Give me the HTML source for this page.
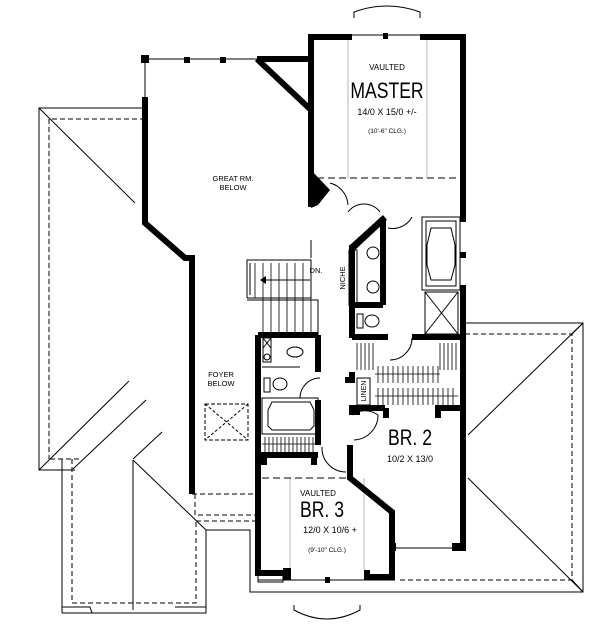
<!DOCTYPE html>
<html><head><meta charset="utf-8"><style>
html,body{margin:0;padding:0;background:#fff;width:600px;height:638px;overflow:hidden}
svg{display:block}
text{font-family:"Liberation Sans",sans-serif;fill:#000;text-anchor:middle}
</style></head><body>
<svg width="600" height="638" viewBox="0 0 600 638" xmlns="http://www.w3.org/2000/svg">
<g fill="none" stroke="#000" stroke-width="1">
<!-- left roof -->
<polyline points="145,108 39,108 39,470 75,470"/>
<polyline points="145,119 49,119 49,459" stroke-dasharray="5,3"/>
<line x1="39" y1="108" x2="135" y2="203"/>
<line x1="39" y1="470" x2="129" y2="381"/>
<line x1="73" y1="469" x2="146" y2="400"/>
<line x1="133" y1="459" x2="162" y2="432"/>
<line x1="50" y1="459" x2="82" y2="459" stroke-dasharray="5,3"/>
<line x1="62" y1="459" x2="62" y2="613"/>
<line x1="72" y1="459" x2="72" y2="603" stroke-dasharray="5,3"/>
<polyline points="72,603 196,603 196,522" stroke-dasharray="5,3"/>
<polyline points="62,613 92,613 90,607 62,607"/>
<polyline points="176,613 206,613 206,607 175,607"/>
<line x1="62" y1="613" x2="206" y2="613"/>
<line x1="133" y1="460" x2="133" y2="610"/>
<line x1="133" y1="460" x2="206" y2="530"/>
<polyline points="206,613 206,530 250,530 250,592 583,592 583,323 465,323"/>
<polyline points="192,494 258,494" stroke-dasharray="5,3"/>
<polyline points="195,494 195,515 258,515" stroke-dasharray="5,3"/>
<polyline points="196,521 258,521" stroke-dasharray="5,3"/>
<polyline points="465,334 572,334 572,580 398,580" stroke-dasharray="5,3"/>
<line x1="583" y1="323" x2="468" y2="435"/>
<line x1="583" y1="592" x2="468" y2="478"/>
<polyline points="572,334 583,323"/><polyline points="572,580 583,592"/>
<!-- skylight -->
<rect x="205" y="404" width="43" height="36" stroke-dasharray="4,2"/>
<line x1="205" y1="404" x2="248" y2="440" stroke-dasharray="3,2"/>
<line x1="248" y1="404" x2="205" y2="440" stroke-dasharray="3,2"/>
<!-- master dashed -->
<line x1="317" y1="178" x2="460" y2="178" stroke-dasharray="7,4"/>
<line x1="348" y1="40" x2="348" y2="178" stroke="#999" stroke-width=".7"/>
<line x1="427" y1="40" x2="427" y2="178" stroke="#999" stroke-width=".7"/>
<line x1="290" y1="478" x2="290" y2="570" stroke="#999" stroke-width=".7"/>
<line x1="364" y1="478" x2="364" y2="570" stroke="#999" stroke-width=".7"/>
<polyline points="262,478 354,478" stroke-dasharray="7,4"/>
<!-- bay arcs -->
<path d="M354,18 L354,12 Q387,0 420,12 L420,18"/>
<path d="M294,605 L294,610 Q327,628 360,610 L360,605"/>
<line x1="145" y1="59" x2="257" y2="59"/>
<line x1="145" y1="59" x2="145" y2="97"/>
<line x1="352" y1="35" x2="420" y2="35"/>
<line x1="258" y1="580" x2="395" y2="580"/>
<rect x="258" y="573" width="25" height="9"/>
<line x1="392" y1="548" x2="455" y2="548"/>
<line x1="311" y1="240" x2="311" y2="258"/>
<!-- stairs -->
<polyline points="247,298 247,260 311,260 311,298 247,298"/>
<polyline points="250,295 250,263"/>
<g stroke-width=".8">
<line x1="255" y1="263" x2="255" y2="298"/><line x1="263" y1="263" x2="263" y2="298"/><line x1="271" y1="263" x2="271" y2="298"/><line x1="279" y1="263" x2="279" y2="298"/><line x1="287" y1="263" x2="287" y2="298"/><line x1="295" y1="263" x2="295" y2="298"/><line x1="303" y1="263" x2="303" y2="298"/>
<line x1="263" y1="298" x2="263" y2="335"/><line x1="271" y1="298" x2="271" y2="335"/><line x1="279" y1="298" x2="279" y2="335"/><line x1="287" y1="298" x2="287" y2="335"/><line x1="295" y1="298" x2="295" y2="335"/><line x1="303" y1="298" x2="303" y2="335"/><line x1="311" y1="298" x2="311" y2="335"/>
</g>
<polyline points="247,300 318,300 318,335"/>
<line x1="262" y1="280" x2="310" y2="280"/>
<!-- doors -->
<path d="M330,183 A24,24 0 0 1 348,205"/>
<path d="M348,212 A20,20 0 0 1 380,212"/>
<path d="M388,228 A22,22 0 0 0 412,217"/>
<path d="M412,338 A22,22 0 0 1 390,360"/>
<path d="M352,415 A22,22 0 0 1 378,415 A25,25 0 0 1 354,440"/>
<path d="M320,378 A20,20 0 0 0 300,398"/>
<path d="M322,447 A24,24 0 0 0 346,472"/>
<!-- fixtures -->
<rect x="422" y="217" width="38" height="73"/>
<rect x="426" y="221" width="30" height="65"/>
<polygon points="431,228 451,228 455,245 455,265 451,280 431,280 427,265 427,245"/>
<rect x="425" y="292" width="33" height="42"/>
<line x1="425" y1="292" x2="458" y2="334"/><line x1="458" y1="292" x2="425" y2="334"/>
<rect x="349" y="250" width="8" height="55"/>
<circle cx="373" cy="253" r="6"/><circle cx="373" cy="287" r="6"/>
<ellipse cx="372" cy="321" rx="7" ry="6"/><rect x="357" y="314" width="6" height="14"/>
<ellipse cx="295" cy="352" rx="8" ry="5"/>
<rect x="263" y="338" width="8" height="24"/>
<line x1="263" y1="338" x2="271" y2="348"/><line x1="271" y1="338" x2="263" y2="348"/>
<circle cx="267" cy="357" r="3"/>
<line x1="262" y1="367" x2="300" y2="367"/>
<ellipse cx="280" cy="384" rx="7" ry="6"/><rect x="264" y="378" width="6" height="14"/>
<rect x="262" y="398" width="56" height="36"/>
<polygon points="272,402 310,402 314,410 314,426 310,430 272,430 268,426 268,410"/>
<rect x="357" y="378" width="13" height="27"/>
</g>
<!-- closet hatch -->
<g stroke="#000" stroke-width=".8">
<path d="M357,343 v27 M361,343 v27 M365,343 v27 M369,343 v27 M373,343 v27"/>
<path d="M440,343 v27 M444,343 v27 M448,343 v27 M452,343 v27 M456,343 v27"/>
<path d="M378,366 v17 M383,366 v17 M388,366 v17 M393,366 v17 M398,366 v17 M403,366 v17 M408,366 v17 M413,366 v17 M418,366 v17 M423,366 v17 M428,366 v17 M433,366 v17 M438,366 v17"/>
<line x1="375" y1="374" x2="440" y2="374"/>
<path d="M378,388 v17 M383,388 v17 M388,388 v17 M393,388 v17 M398,388 v17 M403,388 v17 M408,388 v17 M413,388 v17 M418,388 v17 M423,388 v17 M428,388 v17 M433,388 v17 M438,388 v17 M443,388 v17 M448,388 v17 M453,388 v17"/>
<line x1="375" y1="396" x2="458" y2="396"/>
<path d="M265,437 v15 M269,437 v15 M273,437 v15 M277,437 v15 M281,437 v15 M285,437 v15 M289,437 v15 M293,437 v15 M297,437 v15 M301,437 v15 M305,437 v15 M309,437 v15 M313,437 v15"/>
<line x1="262" y1="444" x2="316" y2="444"/>
</g>
<!-- thick walls -->
<g fill="none" stroke="#000" stroke-width="6" stroke-linejoin="miter">
<polyline points="352,37 311,37 311,207"/>
<polyline points="420,37 463,37 463,222"/>
<polyline points="257,59 311,59"/>
<line x1="257" y1="59" x2="311" y2="110"/>
<polyline points="145,97 145,223 185,258 192,258 192,494"/>
<line x1="383" y1="218" x2="383" y2="305"/>
<line x1="352" y1="245" x2="352" y2="338"/>
<polyline points="352,305 383,305"/>
<polyline points="352,337 388,337"/>
<polyline points="412,337 463,337"/>
<polyline points="463,285 463,548 455,548"/>
<polyline points="345,380 352,380 352,372"/>
<polyline points="352,405 352,412 360,412"/>
<polyline points="352,408 385,408"/>
<polyline points="386,408 386,418"/>
<polyline points="435,408 463,408"/>
<polyline points="438,408 438,418"/>
<polyline points="350,445 350,478 392,512 392,577 370,577"/>
<polyline points="258,335 258,573 290,573"/>
<polyline points="258,335 318,335"/>
<polyline points="318,335 318,372"/>
<polyline points="318,400 318,445"/>
<polyline points="264,455 264,465"/><polyline points="314,455 314,465"/>
<polyline points="258,455 318,455"/>
</g>
<g fill="#000">
<polygon points="311,170 330,190 318,205 311,208"/>
<polygon points="350,245 383,215 387,220 355,250"/>
<rect x="141" y="55" width="8" height="8"/><rect x="184" y="57" width="6" height="6"/><rect x="220" y="57" width="6" height="6"/>
<rect x="383" y="33" width="5" height="6"/><rect x="460" y="252" width="6" height="6"/>
<rect x="325" y="577" width="5" height="6"/><rect x="283" y="568" width="8" height="12"/><rect x="364" y="570" width="6" height="10"/>
<rect x="390" y="543" width="6" height="8"/><rect x="452" y="543" width="8" height="8"/>
<polygon points="260,280 266,276 266,284"/>
</g>
<!-- labels -->
<text x="387" y="70" font-size="8">VAULTED</text>
<text x="387" y="98" font-size="22" transform="translate(387,0) scale(.8,1) translate(-387,0)">MASTER</text>
<text x="387" y="115" font-size="9">14/0 X 15/0 +/-</text>
<text x="387" y="133" font-size="6.5">(10'-6" CLG.)</text>
<text x="233" y="181" font-size="7.5">GREAT RM.</text>
<text x="233" y="190" font-size="7.5">BELOW</text>
<text x="221" y="377" font-size="7.5">FOYER</text>
<text x="221" y="386" font-size="7.5">BELOW</text>
<text x="316" y="273" font-size="7.5">DN.</text>
<text font-size="7.5" transform="translate(345,278) rotate(-90)">NICHE</text>
<text font-size="7" transform="translate(366,391) rotate(-90)">LINEN</text>
<text x="410" y="445" font-size="22" transform="translate(410,0) scale(.8,1) translate(-410,0)">BR. 2</text>
<text x="410" y="462" font-size="9">10/2 X 13/0</text>
<text x="318" y="496" font-size="8">VAULTED</text>
<text x="322" y="517" font-size="22" transform="translate(322,0) scale(.8,1) translate(-322,0)">BR. 3</text>
<text x="330" y="533" font-size="9">12/0 X 10/6  +</text>
<text x="327" y="552" font-size="6.5">(9'-10" CLG.)</text>
</svg>
</body></html>
